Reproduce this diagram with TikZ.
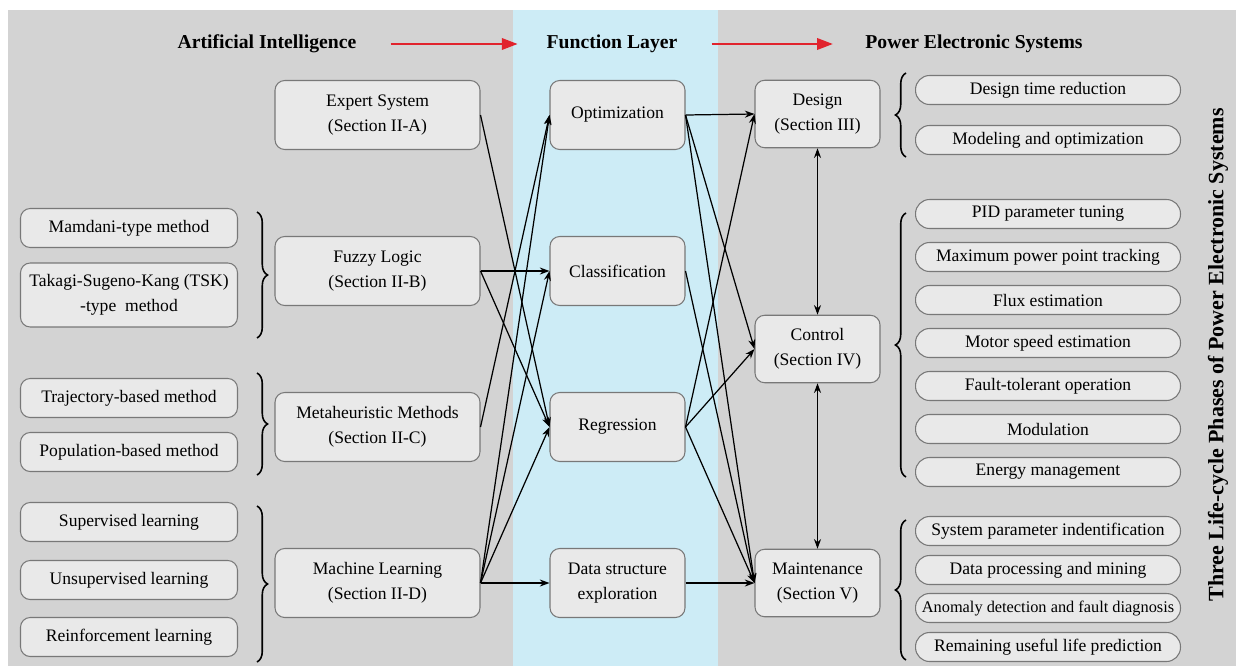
\documentclass[tikz,border=0pt]{standalone}
\usepackage{fontspec}
\setmainfont{Liberation Serif}
\usetikzlibrary{arrows.meta,decorations.pathreplacing}
\definecolor{bggray}{RGB}{211,211,211}
\definecolor{bandblue}{RGB}{205,236,246}
\definecolor{boxfill}{RGB}{233,233,233}
\definecolor{boxline}{RGB}{120,120,120}
\definecolor{headred}{RGB}{225,35,45}
\begin{document}
\begin{tikzpicture}[x=0.02cm, y=-0.02cm, font=\fontsize{10}{14}\selectfont,
    main/.style = {draw=boxline, line width=0.6pt, fill=boxfill, rounded corners=5.5pt, align=center, inner sep=1pt, minimum width=4.1cm, minimum height=1.38cm},
    func/.style = {main, minimum width=2.7cm},
    phase/.style = {main, minimum width=2.5cm, minimum height=1.35cm},
    sub/.style = {main, minimum width=4.34cm, minimum height=0.78cm},
    pill/.style = {main, rounded corners=8pt, minimum width=5.3cm, minimum height=0.58cm},
    head/.style = {font=\fontsize{11.2}{13}\selectfont\bfseries},
    link/.style = {-{Stealth[length=5.5pt,width=4pt]}, line width=0.7pt},
    twoway/.style = {{Stealth[length=5.5pt,width=4pt]}-{Stealth[length=5.5pt,width=4pt]}, line width=0.7pt},
    redarrow/.style = {draw=headred, line width=1.3pt, -{Triangle[length=9pt,width=6.5pt]}},
    cbrace/.style = {decorate, decoration={brace, amplitude=6pt}, line width=0.9pt}]
    \fill[white] (0,0) rectangle (1236,666);
    \fill[bggray] (8,10) rectangle (1236,666);
    \fill[bandblue] (513,10) rectangle (718,666);

    \node[head] (ai) at (267,44) {Artificial Intelligence};
    \node[head] (fl) at (612,44) {Function Layer};
    \node[head] (pes) at (974,44) {Power Electronic Systems};
    \draw[redarrow, shorten <=16pt, shorten >=13pt] (ai) -- (fl);
    \draw[redarrow, shorten <=16pt, shorten >=15pt] (fl) -- (pes);

    \node[main] (1) at (377.5,115) {Expert System\\(Section II-A)};
    \node[main] (2) at (377.5,271) {Fuzzy Logic\\(Section II-B)};
    \node[main] (3) at (377.5,427) {Metaheuristic Methods\\(Section II-C)};
    \node[main] (4) at (377.5,583) {Machine Learning\\(Section II-D)};

    \node[func] (5) at (617.5,115) {Optimization};
    \node[func] (6) at (617.5,271) {Classification};
    \node[func] (7) at (617.5,427) {Regression};
    \node[func] (8) at (617.5,583) {Data structure\\exploration};

    \node[phase] (9) at (817.5,114) {Design\\(Section III)};
    \node[phase] (10) at (817.5,349) {Control\\(Section IV)};
    \node[phase] (11) at (817.5,583) {Maintenance\\(Section V)};

    \node[sub] (a1) at (129,228) {Mamdani-type method};
    \node[sub, minimum height=1.28cm] (a2) at (129,295) {Takagi-Sugeno-Kang (TSK)\\-type\ \ method};
    \node[sub] (a3) at (129,398) {Trajectory-based method};
    \node[sub] (a4) at (129,452) {Population-based method};
    \node[sub] (a5) at (129,522) {Supervised learning};
    \node[sub] (a6) at (129,580) {Unsupervised learning};
    \node[sub] (a7) at (129,637) {Reinforcement learning};

    \node[pill] (b1) at (1048,90) {Design time reduction};
    \node[pill] (b2) at (1048,140) {Modeling and optimization};
    \node[pill] (b3) at (1048,214) {PID parameter tuning};
    \node[pill] (b4) at (1048,257) {Maximum power point tracking};
    \node[pill] (b5) at (1048,300) {Flux estimation};
    \node[pill] (b6) at (1048,343) {Motor speed estimation};
    \node[pill] (b7) at (1048,386) {Fault-tolerant operation};
    \node[pill] (b8) at (1048,429) {Modulation};
    \node[pill] (b9) at (1048,472) {Energy management};
    \node[pill] (b10) at (1048,531) {System parameter indentification};
    \node[pill] (b11) at (1048,570) {Data processing and mining};
    \node[pill, font=\fontsize{9.3}{12}\selectfont] (b12) at (1048,608) {Anomaly detection and fault diagnosis};
    \node[pill] (b13) at (1048,647) {Remaining useful life prediction};

    \node[head, font=\fontsize{12.5}{14}\selectfont\bfseries, rotate=90] (vt) at (1218,355) {Three Life-cycle Phases of Power Electronic Systems};

    \draw[cbrace] (257,212) -- (257,338);
    \draw[cbrace] (257,373) -- (257,475);
    \draw[cbrace] (257,506) -- (257,662);
    \draw[cbrace] (906,157) -- (906,73);
    \draw[cbrace] (906,477) -- (906,213);
    \draw[cbrace] (906,660) -- (906,520);

    \draw[link] (1.east) -- (7.west);
    \draw[link] (2.east) -- (6.west);
    \draw[link] (2.east) -- (7.west);
    \draw[link] (3.east) -- (5.west);
    \draw[link] (4.east) -- (5.west);
    \draw[link] (4.east) -- (6.west);
    \draw[link] (4.east) -- (7.west);
    \draw[link] (4.east) -- (8.west);
    \draw[link] (5.east) -- (9.west);
    \draw[link] (5.east) -- (10.west);
    \draw[link] (5.east) -- (11.west);
    \draw[link] (6.east) -- (11.west);
    \draw[link] (7.east) -- (9.west);
    \draw[link] (7.east) -- (10.west);
    \draw[link] (7.east) -- (11.west);
    \draw[link] (8.east) -- (11.west);
    \draw[twoway] (9) -- (10);
    \draw[twoway] (10) -- (11);
\end{tikzpicture}
\end{document}
